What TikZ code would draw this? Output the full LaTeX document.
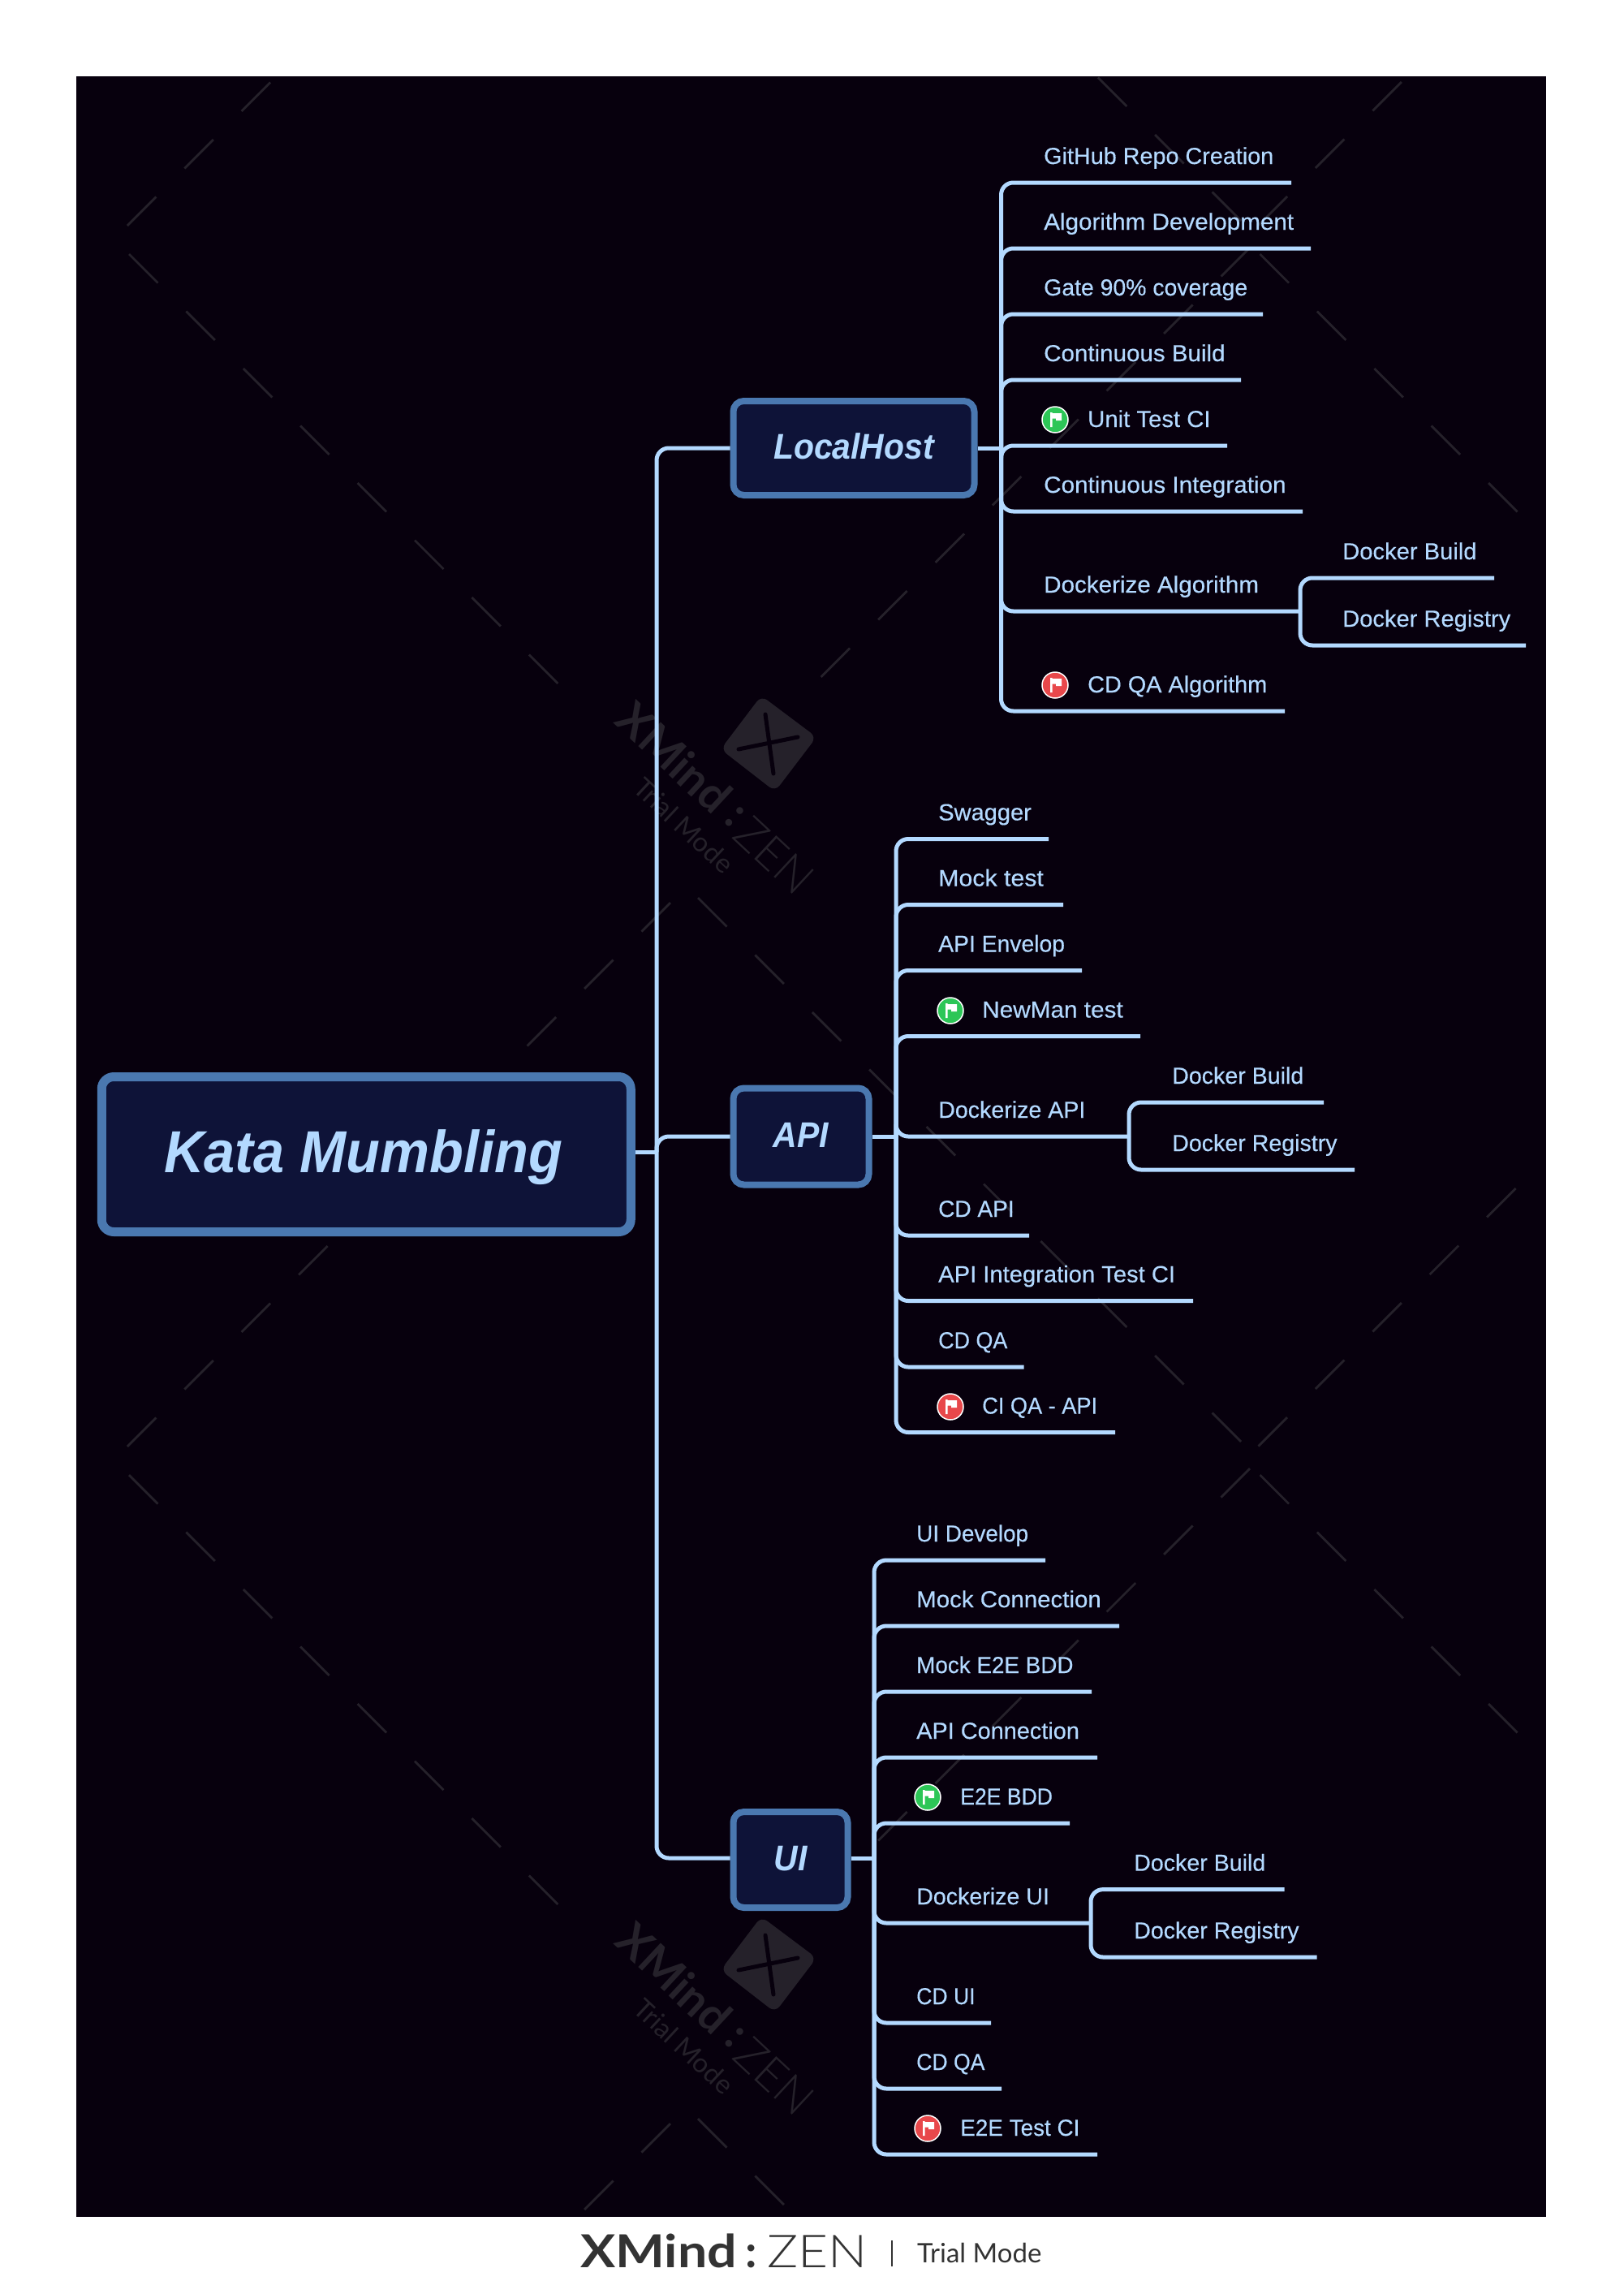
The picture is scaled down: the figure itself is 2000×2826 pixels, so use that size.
\documentclass[tikz,border=0pt]{standalone}
\usepackage{fontspec}
\setmainfont{Liberation Sans}
\newfontfamily\tfont{Liberation Sans}[FakeBold=0.3]
\newfontfamily\wmfont{Lato}
\newfontfamily\wmlight{Lato Light}
\definecolor{bgc}{HTML}{07000D}
\definecolor{wmc}{HTML}{25212A}
\definecolor{linec}{HTML}{B3D9FF}
\definecolor{boxfill}{HTML}{0E1338}
\definecolor{boxline}{HTML}{4A78B0}
\definecolor{okc}{HTML}{2DC657}
\definecolor{badc}{HTML}{E8484B}
\definecolor{footc}{HTML}{333333}
\tikzset{
  x=1pt,y=-1pt,
  link/.style={draw=linec,line width=5pt,rounded corners=15pt},
  straightlink/.style={draw=linec,line width=5pt},
  topic/.style={anchor=base west,inner sep=0pt,text=linec,font=\tfont\fontsize{28.6}{30}\selectfont},
  central/.style={draw=boxline,fill=boxfill,line width=11pt,rounded corners=15pt,text=linec,inner sep=0pt,
    font=\fontsize{73}{76}\selectfont\bfseries\itshape,text height=58pt,text depth=14pt},
  mainbox/.style={draw=boxline,fill=boxfill,line width=8pt,rounded corners=13pt,text=linec,inner sep=0pt,
    font=\fontsize{44}{46}\selectfont\bfseries\itshape,text height=36pt,text depth=10pt},
  iconc/.style={circle,draw=white,line width=1.5pt,inner sep=0pt,minimum size=32pt},
  wm/.style={draw=wmc,line width=2.8pt},
}
\newcommand{\tpc}[6][1]{% [x scale], name, text, text x, line y, line end x
  \node[topic] (#2) at (#4,#5-23) {\scalebox{#1}[1]{#3}};
  \coordinate (#2-r) at (#6,#5);
}
\newcommand{\flagic}[4]{% name, x, y, colour
  \node[iconc,fill=#4] (#1) at (#2,#3) {};
  \fill[white,shift={(#1.center)}] (-6,-9) rectangle (-3.5,9)
    (-3.5,-8) -- (8,-8) -- (8,1) -- (1,1) -- (1,-1.5) -- (-3.5,-1.5) -- cycle;
}
\newcommand{\wmrun}[6]{% x, y, k from, k to, dx per k, dy per k : draws 45-degree dashes
  \foreach \k in {#3,...,#4}{\draw[wm] ({#1+#5*\k},{#2+#6*\k}) -- ++(\wmdx,\wmdy);}
}
\newcommand{\wmlogo}[1]{%
  \begin{scope}[yshift=-#1pt]
    \fill[wmc,rounded corners=9pt] (938,857) -- (1006,908) -- (955,975) -- (888,923) -- cycle;
    \draw[bgc,line width=5pt,line cap=round] (943,880) -- (953,953);
    \draw[bgc,line width=5pt,line cap=round] (910,923) -- (983,908);
    \node[rotate=-43,text=wmc,inner sep=0pt,font=\wmfont\fontsize{56}{56}\selectfont\bfseries] at (831,933) {XMind};
    \node[rotate=-43,text=wmc,inner sep=0pt,font=\wmfont\fontsize{56}{56}\selectfont\bfseries] at (905,1006) {:};
    \node[rotate=-43,text=wmc,inner sep=0pt,font=\wmlight\fontsize{56}{56}\selectfont] at (954,1054) {ZEN};
    \node[rotate=-43,text=wmc,inner sep=0pt,font=\wmfont\fontsize{33}{33}\selectfont] at (843,1017) {Trial Mode};
  \end{scope}
}
\begin{document}
\begin{tikzpicture}
\useasboundingbox (0,0) rectangle (2000,2826);
\fill[white] (0,0) rectangle (2000,2826);
\fill[bgc] (94,94) rectangle (1905,2731);
% watermark
\begin{scope}
\clip (94,94) rectangle (1905,2731);
% descending dashes
\def\wmdx{35.5}\def\wmdy{35.5}
\wmrun{159}{313}{0}{7}{70.4}{70.5}
\wmrun{159}{1817}{0}{7}{70.4}{70.5}
\wmrun{860}{-398}{7}{9}{70.4}{70.5}
\wmrun{860}{1106}{0}{9}{70.4}{70.5}
\wmrun{860}{2610}{0}{1}{70.4}{70.5}
\wmrun{1552.5}{313}{0}{4}{70.4}{70.5}
\wmrun{1552.5}{1817}{0}{4}{70.4}{70.5}
% ascending dashes
\def\wmdx{-35.5}\def\wmdy{35.5}
\wmrun{826}{-392}{7}{9}{-70.4}{70.5}
\wmrun{826}{1112}{0}{9}{-70.4}{70.5}
\wmrun{826}{2616}{0}{1}{-70.4}{70.5}
\wmrun{1586}{242}{0}{2}{70.4}{-70.5}
\wmrun{1586}{1746}{0}{4}{70.4}{-70.5}
\wmrun{1540}{305}{0}{7}{-70.4}{70.5}
\wmrun{1540}{1809}{0}{7}{-70.4}{70.5}
\wmlogo{0}
\wmlogo{1504}
\end{scope}
% nodes: main topics
\node[central,minimum width=652pt,minimum height=191pt] (kata) at (451.25,1422) {\hspace*{-7pt}\scalebox{.938}[1]{Kata Mumbling}};
\node[mainbox,minimum width=297pt,minimum height=116pt] (local) at (1052,552) {\scalebox{.93}[1]{LocalHost}};
\node[mainbox,minimum width=167pt,minimum height=119pt] (api) at (987,1400) {\scalebox{.93}[1]{API}};
\node[mainbox,minimum width=141pt,minimum height=118pt] (ui) at (974,2291) {\scalebox{.93}[1]{UI}};
\coordinate (mhub) at (809,1419);
\coordinate (lhub) at (1233.5,552);
\coordinate (ahub) at (1104,1400);
\coordinate (uhub) at (1077,2289);
% LocalHost children
\tpc[1.006]{l1}{GitHub Repo Creation}{1286}{225}{1591}
\tpc[1.036]{l2}{Algorithm Development}{1286}{306}{1615}
\tpc[.993]{l3}{Gate 90\% coverage}{1286}{387}{1556}
\tpc[1.033]{l4}{Continuous Build}{1286}{468}{1529}
\tpc[1.024]{l5}{Unit Test CI}{1340}{549}{1512}
\tpc[1.037]{l6}{Continuous Integration}{1286}{630}{1605}
\tpc[1.035]{l7}{Dockerize Algorithm}{1286}{753}{1602}
\tpc[1.02]{l7a}{Docker Build}{1654}{712}{1841}
\tpc[1.018]{l7b}{Docker Registry}{1654}{795}{1880}
\tpc[1.008]{l8}{CD QA Algorithm}{1340}{876}{1583}
% API children
\tpc[1.016]{a1}{Swagger}{1156}{1033.5}{1292}
\tpc[1.06]{a2}{Mock test}{1156}{1114.5}{1310}
\tpc[.99]{a3}{API Envelop}{1156}{1195.5}{1333}
\tpc[1.04]{a4}{NewMan test}{1210}{1276.5}{1405}
\tpc{a5}{Dockerize API}{1156}{1400}{1391}
\tpc{a5a}{Docker Build}{1444}{1358}{1631}
\tpc{a5b}{Docker Registry}{1444}{1441}{1669}
\tpc[.98]{a6}{CD API}{1156}{1522}{1268}
\tpc[1.02]{a7}{API Integration Test CI}{1156}{1602.5}{1470}
\tpc[.94]{a8}{CD QA}{1156}{1684}{1261.5}
\tpc[.95]{a9}{CI QA - API}{1210}{1764.5}{1374}
% UI children
\tpc[.975]{u1}{UI Develop}{1129}{1922}{1288}
\tpc[1.03]{u2}{Mock Connection}{1129}{2003}{1379}
\tpc[.973]{u3}{Mock E2E BDD}{1129}{2084}{1345}
\tpc[1.01]{u4}{API Connection}{1129}{2165}{1352}
\tpc[.93]{u5}{E2E BDD}{1183}{2246}{1318}
\tpc{u6}{Dockerize UI}{1129}{2369}{1344}
\tpc{u6a}{Docker Build}{1397}{2327.6}{1582.5}
\tpc{u6b}{Docker Registry}{1397}{2411}{1622.5}
\tpc[.93]{u7}{CD UI}{1129}{2492}{1221}
\tpc[.93]{u8}{CD QA}{1129}{2573}{1234}
\tpc[.975]{u9}{E2E Test CI}{1183}{2654}{1352}
% flags
\flagic{fl5}{1300}{517}{okc}
\flagic{fl8}{1300}{844}{badc}
\flagic{fa4}{1171}{1245}{okc}
\flagic{fa9}{1171}{1733}{badc}
\flagic{fu5}{1143}{2214}{okc}
\flagic{fu9}{1143}{2622}{badc}
% connectors
\draw[straightlink] ([yshift=3pt]kata.east) -- (mhub);
\draw[link] (mhub) |- (local.west);
\draw[link] (mhub) |- (api.west);
\draw[link] (mhub) |- ([yshift=2pt]ui.west);
\draw[straightlink] (local.east) -- (lhub);
\draw[straightlink] (api.east) -- (ahub);
\draw[straightlink] ([yshift=2pt]ui.east) -- (uhub);
\foreach \c in {l1,l2,l3,l4,l5,l6,l7,l8} \draw[link] (lhub) |- (\c-r);
\foreach \c in {a1,a2,a3,a4,a5,a6,a7,a8,a9} \draw[link] (ahub) |- (\c-r);
\foreach \c in {u1,u2,u3,u4,u5,u6,u7,u8,u9} \draw[link] (uhub) |- (\c-r);
\coordinate (l7h) at (l7-r);\coordinate (a5h) at (a5-r);\coordinate (u6h) at (u6-r);
\foreach \c in {l7a,l7b} \draw[link] (l7h) |- (\c-r);
\foreach \c in {a5a,a5b} \draw[link] (a5h) |- (\c-r);
\foreach \c in {u6a,u6b} \draw[link] (u6h) |- (\c-r);
% footer
\node[anchor=base west,inner sep=0pt,text=footc,font=\wmfont\fontsize{56}{56}\selectfont\bfseries] (fx) at (715,2793) {\scalebox{1.15}[1]{XMind}};
\node[anchor=base west,inner sep=0pt,text=footc,font=\wmfont\fontsize{56}{56}\selectfont\bfseries] (fc) at (918,2793) {:};
\node[anchor=base west,inner sep=0pt,text=footc,font=\wmlight\fontsize{56}{56}\selectfont] (fz) at (945,2793) {\scalebox{1.14}[1]{ZEN}};
\draw[footc,line width=2pt] (1099,2760) -- (1099,2792);
\node[anchor=base west,inner sep=0pt,text=footc,font=\wmfont\fontsize{33}{33}\selectfont] (ft) at (1130,2787) {Trial Mode};
\end{tikzpicture}
\end{document}
